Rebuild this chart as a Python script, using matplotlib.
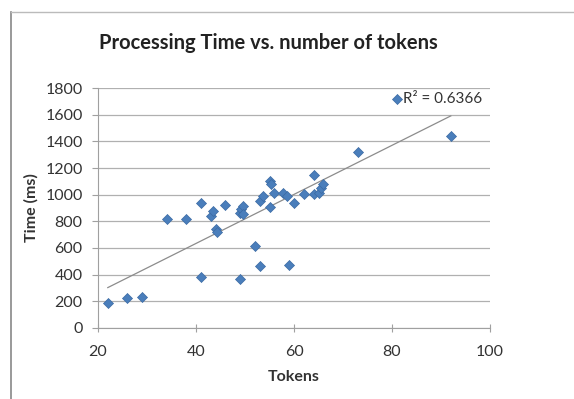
import matplotlib
matplotlib.use("Agg")
import matplotlib.pyplot as plt
import numpy as np

tokens = [22, 26, 29, 34, 38, 41, 41, 43, 43.5, 44, 44.2, 46, 49, 49.2, 49.6, 49.5, 49, 52, 53, 53, 53.7,
          55, 55, 55.4, 56, 57.8, 58.6, 59, 60, 62, 64, 64, 65, 65.6, 66, 73, 81, 92]
time_ms = [190, 222, 230, 815, 815, 934, 380, 840, 880, 740, 720, 925, 866, 890, 916, 855, 367, 617, 467, 954, 990,
           911, 1103, 1078, 1016, 1016, 990, 472, 936, 1003, 1146, 1003, 1016, 1053, 1078, 1323, 1715, 1440]
r2_label = "R² = 0.6366"
xticks = [20, 40, 60, 80, 100]
yticks = [0, 200, 400, 600, 800, 1000, 1200, 1400, 1600, 1800]

plt.rcParams['font.family'] = ['Lato', 'DejaVu Sans']

fig = plt.figure(figsize=(5.74, 3.99), dpi=100)
ax = fig.add_axes([0.1707, 0.178, 0.683, 0.6014])

ax.set_xlim(20, 100)
ax.set_ylim(0, 1800)
ax.set_xticks(xticks)
ax.set_yticks(yticks)
ax.yaxis.grid(True, color='#b0b0b0', linewidth=0.9)
ax.set_axisbelow(True)
for s in ['top', 'right']:
    ax.spines[s].set_visible(False)
for s in ['left', 'bottom']:
    ax.spines[s].set_color('#a0a0a0')
ax.tick_params(axis='both', colors='#a0a0a0', labelcolor='#333333', labelsize=11.5, width=0.8)
ax.tick_params(axis='y', length=4, pad=7)
ax.tick_params(axis='x', direction='inout', length=6, pad=9)

x = np.array(tokens)
y = np.array(time_ms)
ax.scatter(x, y, marker='D', s=26, color='#4a7ebb', edgecolors='#3b6aa3', linewidths=0.5, zorder=3)

m, b = np.polyfit(x, y, 1)
xl = np.array([min(tokens), max(tokens)])
ax.plot(xl, m * xl + b, color='#8c8c8c', linewidth=0.9, zorder=2)

ax.text(82.2, 1715, r2_label, fontsize=11, color='#333333', va='center', ha='left')

ax.set_xlabel('Tokens', fontsize=11.5, fontweight='bold', color='#333333', labelpad=8)
ax.set_ylabel('Time (ms)', fontsize=11.5, fontweight='bold', color='#333333', labelpad=5)
fig.text(0.467, 0.893, 'Processing Time vs. number of tokens', fontsize=14.5, fontweight='bold',
         color='#222222', ha='center', va='center')

# chart frame
fig.add_artist(plt.Line2D([0.019, 0.019], [0.0, 0.97], color='#888888', linewidth=1.2, transform=fig.transFigure))
fig.add_artist(plt.Line2D([0.019, 1.0], [0.97, 0.97], color='#bbbbbb', linewidth=1.0, transform=fig.transFigure))

fig.savefig('out.png', dpi=100)
